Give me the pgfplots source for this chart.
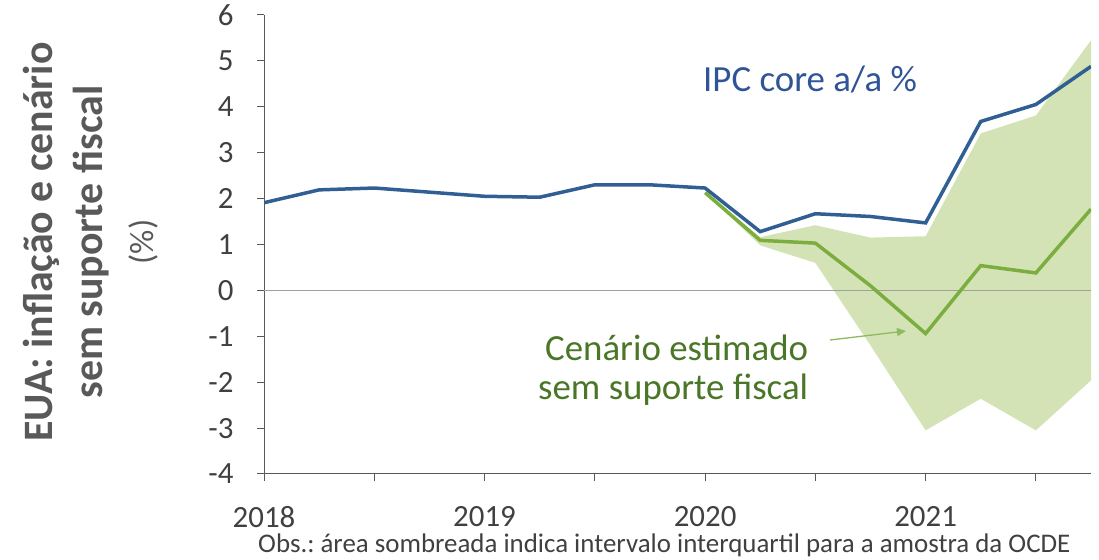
\documentclass[border=0pt]{standalone}
\usepackage{pgfplots}
\pgfplotsset{compat=1.18}
\usepackage{fontspec}
\setmainfont{Carlito}
\usetikzlibrary{arrows.meta}
\frenchspacing
\definecolor{ipcblue}{HTML}{2F5F93}
\definecolor{ipctext}{HTML}{2F5597}
\definecolor{scgreen}{HTML}{7BAE3E}
\definecolor{shade}{HTML}{D3E3B6}
\definecolor{gtext}{HTML}{4A7628}
\definecolor{axgray}{HTML}{595959}
\definecolor{lbl}{HTML}{404040}
\definecolor{arrowg}{HTML}{8DBA5E}
\definecolor{zerogray}{HTML}{A0A0A0}
\begin{document}
\begin{tikzpicture}[x=1bp,y=1bp]
\useasboundingbox (0,0) rectangle (1099,560);
\begin{axis}[
  at={(264bp,86bp)}, anchor=south west,
  scale only axis, width=827bp, height=459bp,
  xmin=2018, xmax=2021.75, ymin=-4, ymax=6,
  axis lines*=left,
  axis line style={axgray, line width=1bp},
  xtick={2018,2019,2020,2021},
  xticklabels={2018,2019,2020,2021},
  minor xtick={2018.5,2019.5,2020.5,2021.5},
  ytick={-4,-3,-2,-1,0,1,2,3,4,5,6},
  yticklabels={-4,-3,-2,-1,0,1,2,3,4,5,6},
  tick align=outside,
  major tick length=7bp, minor tick length=7bp,
  tick style={axgray, line width=1bp},
  minor tick style={axgray, line width=1bp},
  tick label style={font=\fontsize{31}{37}\selectfont, text=lbl},
  yticklabel style={xshift=-20bp},
  xticklabel style={yshift=-22bp},
  /pgf/number format/assume math mode=true,
]
\addplot[draw=none, fill=shade] coordinates {
  (2020.00,2.13) (2020.25,1.16) (2020.50,1.42) (2020.75,1.15)
  (2021.00,1.18) (2021.25,3.42) (2021.50,3.81) (2021.75,5.45)
  (2021.75,-1.96) (2021.50,-3.05) (2021.25,-2.36) (2021.00,-3.05)
  (2020.75,-1.20) (2020.50,0.60) (2020.25,0.98) (2020.00,2.13)
} -- cycle;
\addplot[zerogray, line width=1bp] coordinates {(2018,0) (2021.75,0)};
\addplot[scgreen, line width=3.5bp] coordinates {
  (2020.00,2.13) (2020.25,1.09) (2020.50,1.03) (2020.75,0.10)
  (2021.00,-0.94) (2021.25,0.54) (2021.50,0.38) (2021.75,1.77)
};
\addplot[ipcblue, line width=3.5bp] coordinates {
  (2018.00,1.91) (2018.25,2.19) (2018.50,2.23) (2018.75,2.14)
  (2019.00,2.05) (2019.25,2.03) (2019.50,2.30) (2019.75,2.30)
  (2020.00,2.23) (2020.25,1.28) (2020.50,1.67) (2020.75,1.61)
  (2021.00,1.47) (2021.25,3.68) (2021.50,4.05) (2021.75,4.88)
};
\end{axis}
% y label
\node[rotate=90, anchor=base, text=axgray, font=\fontsize{42}{50}\selectfont\bfseries, inner sep=0pt] at (52,318) {EUA: inflação e cenário};
\node[rotate=90, anchor=base, text=axgray, font=\fontsize{42}{50}\selectfont\bfseries, inner sep=0pt] at (102,318) {sem suporte fiscal};
\node[rotate=90, anchor=base, text=axgray, font=\fontsize{34}{40}\selectfont, inner sep=0pt] at (153,318) {(\%)};
% annotations
\node[anchor=base west, text=ipctext, font=\fontsize{37}{44}\selectfont, inner sep=0pt] at (703,468) {IPC core a/a \%};
\node[anchor=base west, text=gtext, font=\fontsize{37}{44}\selectfont, inner sep=0pt] at (545,199) {Cenário estimado};
\node[anchor=base west, text=gtext, font=\fontsize{37}{44}\selectfont, inner sep=0pt] at (538,160) {sem suporte fiscal};
\draw[arrowg, line width=1.3bp, -{Triangle[length=9bp, width=8bp]}] (830,220) -- (906,229);
% footnote
\node[anchor=base west, text=lbl, font=\fontsize{27}{32}\selectfont, inner sep=0pt] at (258,7) {Obs.: área sombreada indica intervalo interquartil para a amostra da OCDE};
\end{tikzpicture}
\end{document}
